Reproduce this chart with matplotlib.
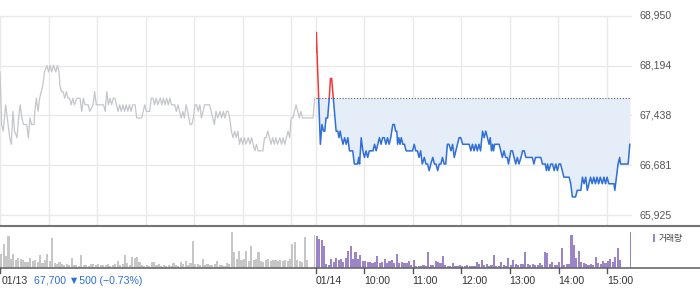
import numpy as np
import matplotlib
matplotlib.use("Agg")
import matplotlib.pyplot as plt
from matplotlib.patches import Rectangle
from matplotlib.lines import Line2D
import matplotlib.transforms as mtransforms

plt.rcParams['font.family'] = ['Liberation Sans', 'DejaVu Sans']

# ---------------- data ----------------
ref_price = 67700
y_ticks = [68950, 68194, 67438, 66681, 65925]
y_labels = ["68,950", "68,194", "67,438", "66,681", "65,925"]

# day 1 (01/13): minutes since 09:00, price
d1_t = [0, 2, 4, 7, 10, 12, 14, 16, 18, 21,
        23, 25, 27, 29, 33, 35, 37, 39, 42, 43,
        45, 47, 49, 51, 53, 55, 58, 60, 62, 64,
        66, 69, 71, 73, 74, 76, 78, 80, 82, 84,
        86, 88, 90, 92, 95, 99, 101, 103, 105, 109,
        111, 115, 117, 119, 123, 128, 130, 132, 134, 136,
        138, 140, 142, 144, 146, 148, 150, 152, 154, 156,
        158, 160, 162, 164, 167, 169, 173, 175, 177, 179,
        181, 185, 187, 189, 191, 193, 195, 198, 200, 202,
        204, 206, 208, 210, 212, 214, 216, 218, 220, 222,
        224, 226, 228, 230, 232, 235, 237, 239, 241, 243,
        245, 247, 249, 251, 253, 257, 259, 261, 263, 265,
        267, 269, 272, 274, 276, 278, 280, 282, 284, 286,
        288, 290, 292, 294, 296, 298, 300, 302, 304, 307,
        309, 311, 313, 315, 317, 319, 321, 323, 325, 327,
        329, 331, 333, 335, 337, 339, 341, 343, 346, 348,
        350, 352, 354, 356, 358, 360, 362, 364, 366, 368,
        370, 372, 374, 387, 389]
d1_p = [68100, 67300, 67200, 67600, 67300, 67100, 67000, 67500, 67200, 67100,
        67400, 67600, 67400, 67300, 67300, 67100, 67400, 67300, 67300, 67500,
        67700, 67500, 67700, 67800, 67900, 68100, 68200, 68100, 68200, 68100,
        68200, 68100, 68200, 68100, 67900, 67800, 67800, 67700, 67800, 67700,
        67700, 67600, 67700, 67600, 67700, 67700, 67500, 67700, 67600, 67600,
        67500, 67600, 67800, 67600, 67600, 67600, 67500, 67800, 67600, 67700,
        67600, 67700, 67700, 67600, 67500, 67600, 67500, 67600, 67500, 67600,
        67500, 67600, 67500, 67600, 67600, 67400, 67400, 67400, 67500, 67600,
        67500, 67500, 67700, 67700, 67600, 67700, 67600, 67700, 67600, 67700,
        67600, 67700, 67600, 67700, 67600, 67600, 67600, 67500, 67600, 67500,
        67400, 67500, 67400, 67600, 67500, 67300, 67300, 67400, 67600, 67600,
        67500, 67600, 67400, 67500, 67600, 67600, 67600, 67500, 67400, 67300,
        67500, 67400, 67500, 67400, 67500, 67400, 67500, 67500, 67400, 67200,
        67100, 67200, 67100, 67200, 67000, 67100, 67000, 67100, 67000, 67100,
        67000, 67100, 67000, 66900, 67000, 66900, 66900, 66900, 66900, 67100,
        67100, 67200, 67100, 67000, 67100, 67000, 67100, 67000, 67100, 67000,
        67100, 67000, 67100, 67200, 67100, 67400, 67400, 67500, 67600, 67500,
        67400, 67500, 67400, 67400, 67700]

# day 2 (01/14): minutes since 09:00, price
d2_t = [0, 1, 6, 8, 10, 11.5, 13, 15, 17, 18.5,
        20, 22, 25.5, 27.5, 29, 30.5, 32, 34, 36, 38,
        40, 42, 46, 48, 52, 53.5, 54.5, 56.5, 58.5, 60.5,
        62.5, 64.5, 66.5, 71, 73, 75, 77, 79, 81, 83,
        85, 87, 89, 91, 93, 95.5, 97.5, 99, 100.5, 101.5,
        103, 104.5, 106, 108, 110, 112, 116, 120, 122, 124,
        126, 128, 130, 132, 134.5, 136.5, 138.5, 140.5, 142.5, 145,
        147, 149, 151, 153, 155, 157, 159, 161, 163, 165,
        167.5, 169.5, 171.5, 173.5, 175.5, 177.5, 179.5, 182, 186, 190,
        192, 194, 196, 198, 200, 202, 204, 206.5, 208.5, 210.5,
        212.5, 214.5, 216, 217.5, 219, 220, 221.5, 227, 229, 231,
        233, 235, 237, 238.5, 241.5, 243.5, 245.5, 247.5, 249.5, 251.5,
        254, 256, 258, 260, 268, 270, 272, 278.5, 280.5, 284,
        285.5, 287, 288.5, 291, 293, 295, 297, 299, 301, 303,
        305, 307, 313.5, 315.5, 317.5, 321.5, 323.5, 328, 330, 332,
        334, 336, 338, 340, 342, 344, 346, 348, 350, 352,
        354.5, 356.5, 358.5, 360.5, 362.5, 369, 370, 372, 374, 376,
        377, 386.5, 388.5]
d2_p = [68400, 68700, 67000, 67300, 67200, 67200, 67400, 67400, 67700, 68000,
        68000, 67700, 67200, 67200, 67100, 67200, 67100, 67000, 67100, 67000,
        67100, 66900, 66900, 66700, 66700, 66800, 66700, 67100, 66900, 66800,
        66900, 66800, 66900, 66900, 67000, 66900, 67000, 67100, 67000, 67100,
        67100, 67000, 67100, 67000, 67100, 67300, 67300, 67200, 67200, 67000,
        67100, 67000, 67100, 67000, 67000, 66900, 66900, 66900, 67000, 66900,
        66900, 66800, 66900, 66700, 66800, 66700, 66700, 66600, 66700, 66800,
        66700, 66700, 66600, 66700, 66700, 66800, 66700, 66700, 67000, 67000,
        66900, 67000, 66800, 66900, 67000, 67100, 67100, 67000, 67000, 67000,
        66900, 67000, 66900, 67000, 66900, 67000, 66900, 67200, 67100, 67200,
        67100, 67000, 67100, 66900, 67000, 66900, 67000, 67000, 66900, 66800,
        66900, 66800, 66800, 66700, 66900, 66900, 66800, 66700, 66800, 66700,
        66800, 66900, 66900, 66800, 66800, 66700, 66800, 66800, 66700, 66700,
        66600, 66700, 66600, 66700, 66700, 66600, 66700, 66600, 66700, 66700,
        66600, 66500, 66500, 66400, 66200, 66200, 66300, 66300, 66500, 66400,
        66500, 66300, 66400, 66500, 66400, 66500, 66400, 66500, 66400, 66500,
        66400, 66500, 66400, 66500, 66400, 66400, 66300, 66500, 66700, 66800,
        66700, 66700, 67000]

# volume, one bar per 3 minutes (relative units), plus closing-auction bar
vol1 = [14, 24, 12, 32, 9, 14, 8, 10, 9, 8,
        6, 6, 10, 7, 8, 6, 13, 5, 8, 14,
        7, 30, 5, 4, 6, 4, 3, 4, 3, 10,
        3, 3, 2, 13, 3, 3, 2, 4, 4, 3,
        4, 3, 3, 3, 4, 2, 3, 4, 7, 3,
        4, 13, 5, 3, 11, 10, 11, 6, 3, 2,
        3, 2, 6, 6, 3, 4, 2, 3, 2, 3,
        2, 5, 3, 2, 6, 4, 7, 3, 5, 27,
        4, 4, 3, 9, 3, 4, 3, 3, 4, 7,
        3, 3, 2, 5, 4, 36, 16, 9, 17, 8,
        9, 17, 7, 22, 8, 9, 16, 7, 6, 8,
        9, 7, 8, 8, 7, 8, 7, 8, 7, 9,
        24, 26, 8, 7, 6, 31, 8, 0, 0, 0]
vol1_close = 33
vol2 = [32, 29, 28, 22, 4, 3, 9, 6, 10, 8,
        9, 6, 10, 17, 22, 9, 16, 9, 13, 7,
        7, 6, 6, 5, 6, 12, 5, 6, 9, 5,
        7, 8, 5, 14, 5, 6, 5, 5, 7, 3,
        8, 2, 2, 2, 3, 2, 16, 3, 3, 7,
        6, 5, 12, 3, 2, 2, 5, 2, 2, 3,
        2, 2, 3, 2, 2, 2, 6, 4, 8, 3,
        4, 2, 3, 13, 2, 2, 6, 3, 2, 10,
        3, 8, 4, 3, 4, 4, 16, 4, 3, 4,
        3, 3, 5, 3, 16, 15, 4, 6, 3, 3,
        6, 20, 3, 4, 4, 33, 23, 10, 17, 6,
        5, 4, 3, 4, 3, 11, 5, 4, 7, 5,
        7, 9, 6, 11, 20, 8, 0, 0, 0, 0]
vol2_close = 36

day_labels = ["01/13", "01/14"]
hour_labels = ["10:00", "11:00", "12:00", "13:00", "14:00", "15:00"]
info_text = "67,700 \u25bc500 (\u22120.73%)"
legend_label = "거래량"

# ---------------- layout ----------------
W, H = 700, 289
DAY = 390  # minutes per session
fig = plt.figure(figsize=(W / 100, H / 100), dpi=100)


def fx(px):
    return px / W


def fy(py):
    return 1 - py / H


ax = fig.add_axes([0, fy(225), 631 / W, (225 - 16) / H])
ax_v = fig.add_axes([0, fy(268), 631 / W, (268 - 229) / H])

ax.set_xlim(0, 2 * DAY)
ax.set_ylim(65773, 68950)
ax_v.set_xlim(0, 2 * DAY)
ax_v.set_ylim(0, 39)
for a in (ax, ax_v):
    a.axis('off')

grid_c = '#e9e9e9'
for y in y_ticks:
    ax.axhline(y, color=grid_c, lw=1.0, zorder=0, clip_on=False)
vgrid = list(range(0, DAY, 60)) + [DAY] + list(range(DAY + 60, 2 * DAY, 60))
for t in vgrid:
    ax.axvline(t, color=grid_c, lw=1.0, zorder=0)

# y labels on the right
blend_y = mtransforms.blended_transform_factory(fig.transFigure, ax.transData)
for y, lab in zip(y_ticks, y_labels):
    ax.text(fx(639), y, lab, transform=blend_y, ha='left', va='center',
            fontsize=7.6, color='#555555', clip_on=False)

# price lines
t1 = np.array(d1_t, dtype=float)
p1 = np.array(d1_p, dtype=float)
t2 = np.array(d2_t, dtype=float) + DAY
p2 = np.array(d2_p, dtype=float)

ax.plot(t1, p1, color='#c4c6cb', lw=0.9, zorder=3)

ax.fill_between(t2, np.minimum(p2, ref_price), ref_price,
                color='#e5edf9', lw=0, zorder=1)
ax.plot([DAY, 2 * DAY], [ref_price, ref_price], color='#555555', lw=0.8,
        ls=(0, (1, 1.6)), zorder=2)

line_r, = ax.plot(t2, p2, color='#f03a3a', lw=1.1, zorder=4)
line_r.set_clip_path(Rectangle((DAY, ref_price), DAY + 10, 5000,
                               transform=ax.transData))
line_b, = ax.plot(t2, p2, color='#2f6fd9', lw=1.1, zorder=4)
line_b.set_clip_path(Rectangle((DAY, 60000), DAY + 10, ref_price - 60000,
                               transform=ax.transData))

# volume bars
vt1 = np.arange(len(vol1)) * 3 + 1.5
vt2 = np.arange(len(vol2)) * 3 + 1.5 + DAY
ax_v.bar(vt1, vol1, width=2.6, color='#c6c6c6', lw=0)
ax_v.bar([DAY - 1], [vol1_close], width=1.3, color='#c6c6c6', lw=0)
ax_v.bar(vt2, vol2, width=2.6, color='#9b84c8', lw=0)
ax_v.bar([2 * DAY - 1], [vol2_close], width=1.3, color='#9b84c8', lw=0)

# separator and baseline lines
fig.add_artist(Line2D([0, 1], [fy(225.6), fy(225.6)], transform=fig.transFigure,
                      color='#737373', lw=1.5))
fig.add_artist(Line2D([0, 1], [fy(268), fy(268)], transform=fig.transFigure,
                      color='#6a6a6a', lw=1.2))

# ticks and x labels
blend_x = mtransforms.blended_transform_factory(ax_v.transData, fig.transFigure)
tick_pos = [0, DAY] + list(range(DAY + 60, 2 * DAY, 60))
for t in tick_pos:
    fig.add_artist(Line2D([t + 0.4, t + 0.4], [fy(268), fy(272.5)], transform=blend_x,
                          color='#555555', lw=1.0))

ly = fy(281)
fig.text(fx(1.5), ly, day_labels[0], ha='left', va='center', fontsize=7.6, color='#333333')
fig.text(fx(34), ly, info_text, ha='left', va='center', fontsize=7.6, color='#2f6fd9')
fig.text(DAY + 0.6, ly, day_labels[1], transform=blend_x, ha='left', va='center',
         fontsize=7.6, color='#333333')
for t, lab in zip(range(DAY + 60, 2 * DAY, 60), hour_labels):
    fig.text(t, ly, lab, transform=blend_x, ha='left', va='center',
             fontsize=7.6, color='#333333')

# legend
fig.add_artist(Rectangle((fx(652.7), fy(241.7)), 2.7 / W, 7.4 / H,
                         transform=fig.transFigure, color='#9b84c8', lw=0))
fig.text(fx(658.5), fy(238), legend_label, ha='left', va='center', fontsize=6.3,
         color='#444444', family=['Noto Sans CJK KR', 'DejaVu Sans'])

fig.savefig('out.png', dpi=100)
